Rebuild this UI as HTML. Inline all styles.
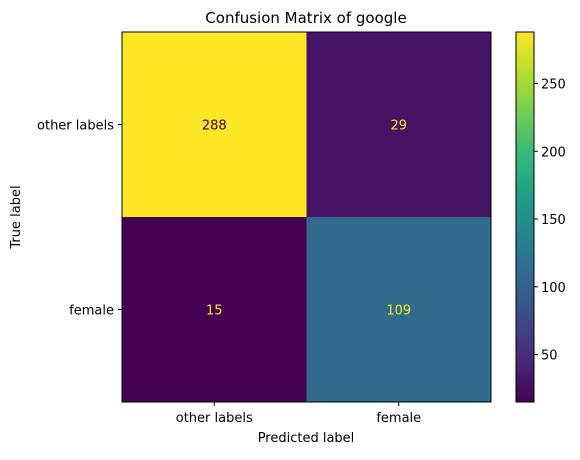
<!DOCTYPE html>
<html><head><meta charset="utf-8"><style>
body{margin:0;background:#fff;}
svg text{font-family:"DejaVu Sans","Liberation Sans",sans-serif;}
</style></head><body>
<svg id="c" width="580" height="455" xmlns="http://www.w3.org/2000/svg"></svg>
<script>
const classes = ["other labels", "female"];
const matrix = [[288, 29], [15, 109]];
const cbTicks = [50, 100, 150, 200, 250];
const title = "Confusion Matrix of google";

const NS = "http://www.w3.org/2000/svg";
const svg = document.getElementById("c");
const X0 = 122, X1 = 491, Y0 = 32, Y1 = 402;
const n = classes.length;
const cw = (X1 - X0) / n, ch = (Y1 - Y0) / n;
const flat = matrix.flat();
const vmin = Math.min(...flat), vmax = Math.max(...flat);
const VIR = ["#440154","#482878","#3e4989","#31688e","#26828e","#1f9e89","#35b779","#6ece58","#b5de2b","#fde725"];
function hex(h){return [1,3,5].map(i=>parseInt(h.substr(i,2),16));}
function viridis(t){t=Math.max(0,Math.min(1,t));const p=t*(VIR.length-1);const i=Math.min(Math.floor(p),VIR.length-2);const f=p-i;const a=hex(VIR[i]),b=hex(VIR[i+1]);return "rgb("+a.map((v,k)=>Math.round(v+(b[k]-v)*f)).join(",")+")";}
function el(tag, attrs, text){const e=document.createElementNS(NS,tag);for(const k in attrs)e.setAttribute(k,attrs[k]);if(text!==undefined)e.textContent=text;svg.appendChild(e);return e;}
const xc = j => X0 + cw*(j+0.5);
const yc = i => Y0 + ch*(i+0.5);
const FS = "13";

let t = el("text",{x:306,y:23,"text-anchor":"middle","font-size":"15"},title);



matrix.forEach((row,i)=>row.forEach((v,j)=>{
  const norm=(v-vmin)/(vmax-vmin);
  const r=el("rect",{x:X0+cw*j,y:Y0+ch*i,width:cw+0.5,height:ch+0.5,fill:viridis(norm)});
  
  
  const tx=el("text",{x:xc(j),y:yc(i)+5,"text-anchor":"middle","font-size":FS,fill:norm>0.5?"#440154":"#fde725"},String(v));
  
  
}));
let fr=el("rect",{x:X0,y:Y0,width:X1-X0,height:Y1-Y0,fill:"none",stroke:"#000","stroke-width":1});



classes.forEach((c,k)=>{
  el("line",{x1:xc(k),x2:xc(k),y1:Y1,y2:Y1+4,stroke:"#000"});
  const a=el("text",{x:xc(k),y:Y1+20,"text-anchor":"middle","font-size":FS},c);
  
  
  el("line",{x1:X0-4,x2:X0,y1:yc(k),y2:yc(k),stroke:"#000"});
  const b=el("text",{x:X0-8,y:yc(k)+5,"text-anchor":"end","font-size":FS},c);
  
  
});
let xl=el("text",{x:306,y:442,"text-anchor":"middle","font-size":FS},"Predicted label");


let yl=el("text",{x:20,y:217,"text-anchor":"middle","font-size":FS,transform:"rotate(-90 20 217)"},"True label");



// colorbar
const CX=516, CW=18;
const defs=el("defs",{});
const g=document.createElementNS(NS,"linearGradient");
g.setAttribute("id","vg");g.setAttribute("x1","0");g.setAttribute("y1","1");g.setAttribute("x2","0");g.setAttribute("y2","0");
VIR.forEach((c,k)=>{const s=document.createElementNS(NS,"stop");s.setAttribute("offset",k/(VIR.length-1));s.setAttribute("stop-color",c);g.appendChild(s);});
defs.appendChild(g);
let cb=el("rect",{x:CX,y:Y0,width:CW,height:Y1-Y0,fill:"url(#vg)",stroke:"#000","stroke-width":1});


const cy=v=>Y1-(v-vmin)/(vmax-vmin)*(Y1-Y0);
cbTicks.forEach(v=>{
  el("line",{x1:CX+CW,x2:CX+CW+4,y1:cy(v),y2:cy(v),stroke:"#000"});
  const l=el("text",{x:CX+CW+7,y:cy(v)+5,"font-size":FS},String(v));
  
  
});
</script>
</body></html>
